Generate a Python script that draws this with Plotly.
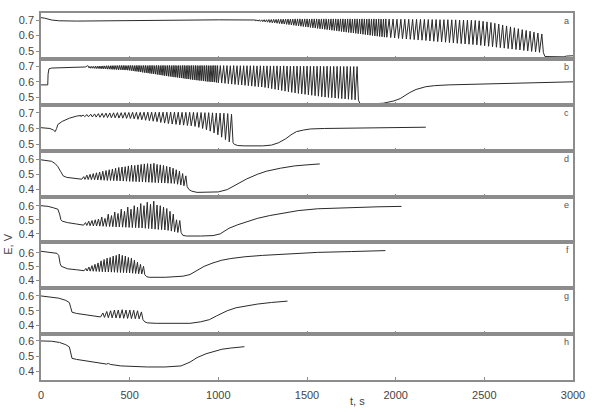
import plotly.graph_objects as go
from plotly.subplots import make_subplots

# ---------------- data ----------------
panel_labels = ["a", "b", "c", "d", "e", "f", "g", "h"]
x_ticks = [0, 500, 1000, 1500, 2000, 2500, 3000]

# panel a : oscillation segments (start/split/end times) and cycles per segment
a_pre_t = [0, 20, 60, 100, 200, 300, 400, 500, 700, 1000, 1210]
a_pre_v = [0.715, 0.712, 0.700, 0.695, 0.693, 0.694, 0.698, 0.700, 0.701, 0.701, 0.700]
a_osc_breaks = [1210, 1950, 2833]
a_osc_counts = [55, 40]
a_peaks = [.700, .701, .701, .702, .702, .703, .703, .704, .704, .705,
           .705, .705, .706, .706, .706, .706, .707, .707, .707, .706,
           .707, .707, .706, .707, .707, .707, .706, .707, .707, .707,
           .706, .707, .707, .707, .706, .707, .707, .706, .707, .707,
           .706, .707, .707, .706, .707, .707, .706, .707, .706, .707,
           .706, .707, .706, .706, .707,
           .706, .706, .705, .705, .705, .705, .704, .704, .704, .704,
           .703, .703, .703, .702, .702, .702, .701, .701, .700, .700,
           .699, .698, .697, .695, .692, .688, .684, .679, .674, .668,
           .662, .656, .650, .644, .638, .633, .628, .622, .616, .610]
a_troughs = [.695, .693, .691, .689, .688, .686, .684, .682, .681, .679,
             .677, .675, .674, .672, .670, .668, .666, .664, .662, .660,
             .658, .656, .654, .652, .650, .648, .646, .644, .642, .640,
             .638, .636, .634, .632, .630, .628, .626, .624, .622, .620,
             .618, .616, .614, .612, .610, .608, .606, .604, .602, .600,
             .598, .596, .594, .592, .590,
             .589, .587, .585, .582, .580, .578, .576, .574, .572, .570,
             .568, .565, .563, .561, .559, .557, .555, .553, .550, .548,
             .546, .544, .542, .540, .537, .534, .531, .528, .525, .522,
             .519, .516, .513, .510, .507, .504, .501, .498, .495, .492]
a_post_t = [2833, 2842, 2900, 2950, 2962, 3000]
a_post_v = [0.490, 0.465, 0.463, 0.463, 0.468, 0.470]

# panel b
b_pre_t = [0, 38, 40, 45, 60, 100, 150, 200, 250, 262, 270]
b_pre_v = [0.580, 0.580, 0.650, 0.685, 0.690, 0.692, 0.693, 0.695, 0.697, 0.705, 0.700]
b_osc_breaks = [270, 1000, 1790]
b_osc_counts = [70, 42]
b_peaks = [.700, .701, .701, .702, .702, .703, .703, .704, .704, .705,
           .705, .705, .706, .706, .706, .706, .707, .707, .707, .707,
           .706, .707, .707, .707, .706, .707, .707, .707, .706, .707,
           .707, .706, .707, .707, .707, .706, .707, .707, .706, .707,
           .707, .706, .707, .707, .706, .707, .707, .706, .707, .706,
           .707, .707, .706, .707, .706, .707, .706, .707, .706, .706,
           .707, .706, .706, .707, .706, .706, .706, .707, .706, .706,
           .706, .706, .706, .705, .706, .705, .705, .705, .705, .705,
           .705, .704, .705, .704, .704, .704, .704, .704, .703, .704,
           .703, .703, .703, .703, .703, .702, .703, .702, .702, .702,
           .702, .701, .702, .701, .701, .701, .701, .700, .701, .700,
           .700, .700]
b_troughs = [.690, .689, .689, .688, .687, .687, .686, .685, .685, .684,
             .683, .683, .682, .681, .681, .680, .679, .679, .678, .677,
             .677, .676,
             .675, .673, .671, .669, .668, .666, .664, .662, .660, .659,
             .657, .655, .653, .651, .650, .648, .646, .644, .642,
             .640, .638, .636, .635, .633, .631, .630, .628, .626, .625,
             .623, .621, .619, .618, .616, .614, .613, .611,
             .610, .608, .607, .605, .604, .602, .601, .600, .599, .598, .596,
             .594, .592, .590, .588, .585, .583, .581, .579, .577, .575,
             .572, .570, .568, .566,
             .563, .559, .555, .551, .547, .543, .539, .535, .531,
             .527, .524, .521, .518, .515, .512, .509, .506, .502,
             .500, .498, .496, .494, .492, .490, .488, .486, .484, .482]
b_post_t = [1790, 1800, 1850, 1930, 1990, 2025, 2080, 2115, 2170, 2220, 2300, 2450, 2650, 2850, 3000]
b_post_v = [0.480, 0.456, 0.455, 0.460, 0.475, 0.490, 0.530, 0.550, 0.568, 0.575, 0.580, 0.585, 0.590, 0.597, 0.600]

# panel c
c_pre_t = [0, 50, 70, 80, 88, 95, 120, 160, 200, 225]
c_pre_v = [0.605, 0.600, 0.590, 0.580, 0.600, 0.625, 0.645, 0.665, 0.678, 0.682]
c_osc_breaks = [225, 1083]
c_osc_counts = [40]
c_peaks = [.685, .688, .690, .692, .694, .696, .697, .698, .699, .700,
           .700, .701, .701, .702, .702, .702, .703, .703, .703, .703,
           .703, .703, .703, .703, .703, .703, .702, .702, .702, .702,
           .701, .701, .700, .700, .699, .698, .697, .696, .694, .690]
c_troughs = [.676, .675, .674, .673, .672, .671, .670, .669, .668, .667,
             .666, .665, .664, .663, .661, .658, .655, .652, .649, .646,
             .643, .638, .634, .631, .628, .626, .623, .621, .619, .617,
             .613, .607, .600, .592, .583, .572, .560, .545, .530, .515]
c_post_t = [1083, 1090, 1110, 1150, 1250, 1300, 1340, 1380, 1410, 1440, 1480, 1520, 1600, 1800, 2000, 2170]
c_post_v = [0.510, 0.500, 0.492, 0.490, 0.490, 0.495, 0.510, 0.535, 0.560, 0.580, 0.590, 0.597, 0.600, 0.603, 0.606, 0.608]

# panel d
d_pre_t = [0, 40, 60, 80, 95, 110, 125, 145, 180, 230]
d_pre_v = [0.595, 0.590, 0.585, 0.570, 0.550, 0.520, 0.490, 0.480, 0.476, 0.470]
d_osc_breaks = [230, 824]
d_osc_counts = [33]
d_peaks = [.485, .495, .500, .505, .510, .515, .520, .525, .530, .535,
           .540, .545, .548, .550, .555, .560, .558, .562, .565, .568,
           .570, .568, .572, .565, .562, .558, .552, .548, .540, .530,
           .520, .505, .490]
d_troughs = [.468, .467, .466, .465, .464, .463, .462, .461, .460, .460,
             .459, .458, .457, .456, .455, .454, .453, .452, .451, .450,
             .449, .448, .447, .446, .445, .444, .443, .442, .441, .440,
             .435, .430, .425]
d_post_t = [824, 835, 850, 880, 950, 1000, 1050, 1100, 1160, 1220, 1270, 1350, 1430, 1500, 1572]
d_post_v = [0.420, 0.400, 0.390, 0.382, 0.382, 0.385, 0.400, 0.430, 0.470, 0.500, 0.520, 0.540, 0.555, 0.562, 0.568]

# panel e
e_pre_t = [0, 40, 70, 95, 105, 112, 120, 150, 200, 240]
e_pre_v = [0.600, 0.595, 0.585, 0.575, 0.540, 0.500, 0.490, 0.480, 0.470, 0.465]
e_osc_breaks = [240, 790]
e_osc_counts = [30]
e_peaks = [.480, .490, .495, .500, .505, .520, .510, .540, .530, .555,
           .545, .575, .560, .590, .575, .600, .590, .615, .600, .625,
           .610, .632, .605, .600, .590, .580, .560, .540, .500, .495]
e_troughs = [.462, .460, .458, .457, .456, .455, .454, .453, .452, .451,
             .450, .449, .448, .447, .446, .445, .444, .443, .442, .440,
             .438, .436, .434, .432, .430, .428, .425, .420, .415, .410]
e_post_t = [790, 800, 820, 900, 970, 1010, 1060, 1110, 1160, 1220, 1290, 1370, 1450, 1560, 1750, 1900, 2033]
e_post_v = [0.410, 0.390, 0.385, 0.385, 0.388, 0.400, 0.440, 0.465, 0.485, 0.510, 0.530, 0.550, 0.565, 0.578, 0.587, 0.592, 0.595]

# panel f
f_pre_t = [0, 50, 90, 100, 108, 115, 150, 200, 243]
f_pre_v = [0.610, 0.600, 0.595, 0.580, 0.520, 0.500, 0.482, 0.475, 0.470]
f_osc_breaks = [243, 585]
f_osc_counts = [20]
f_peaks = [.485, .495, .505, .515, .525, .540, .550, .560, .565, .575,
           .580, .590, .580, .575, .565, .560, .545, .530, .515, .500]
f_troughs = [.468, .466, .465, .464, .463, .462, .461, .460, .459, .458,
             .457, .456, .455, .454, .453, .452, .450, .448, .446, .444]
f_post_t = [585, 595, 610, 700, 800, 840, 880, 920, 970, 1020, 1070, 1150, 1250, 1350, 1450, 1560, 1750, 1942]
f_post_v = [0.440, 0.425, 0.420, 0.420, 0.428, 0.440, 0.470, 0.500, 0.525, 0.545, 0.557, 0.570, 0.580, 0.588, 0.596, 0.602, 0.608, 0.615]

# panel g
g_pre_t = [0, 50, 100, 140, 160, 168, 175, 200, 250, 300, 336]
g_pre_v = [0.600, 0.595, 0.585, 0.570, 0.555, 0.520, 0.490, 0.482, 0.475, 0.468, 0.462]
g_osc_breaks = [336, 575]
g_osc_counts = [11]
g_peaks = [.485, .495, .500, .505, .505, .507, .505, .505, .503, .500, .492]
g_troughs = [.458, .455, .453, .452, .451, .450, .449, .448, .447, .446, .445]
g_post_t = [575, 585, 600, 650, 750, 840, 900, 950, 990, 1050, 1100, 1160, 1220, 1300, 1390]
g_post_v = [0.440, 0.425, 0.418, 0.415, 0.413, 0.415, 0.425, 0.440, 0.465, 0.500, 0.520, 0.535, 0.545, 0.556, 0.565]

# panel h (no oscillations)
h_t = [0, 60, 105, 140, 160, 168, 175, 200, 250, 300, 370, 380, 390, 450, 520, 600, 700,
       790, 840, 880, 930, 970, 1020, 1070, 1110, 1147]
h_v = [0.600, 0.598, 0.590, 0.575, 0.560, 0.520, 0.485, 0.478, 0.470, 0.460, 0.447, 0.452, 0.445,
       0.435, 0.430, 0.428, 0.428, 0.435, 0.460, 0.490, 0.515, 0.530, 0.545, 0.553, 0.558, 0.562]

y_ranges = [[0.45, 0.745], [0.45, 0.75], [0.46, 0.75], [0.355, 0.655],
            [0.34, 0.665], [0.34, 0.675], [0.342, 0.652], [0.342, 0.645]]
y_ticks_hi = [0.5, 0.6, 0.7]
y_ticks_lo = [0.4, 0.5, 0.6]


def build(pre_t, pre_v, breaks=None, counts=None, peaks=None, troughs=None,
          post_t=None, post_v=None):
    t = list(pre_t)
    v = list(pre_v)
    if breaks is not None:
        n = min(len(peaks), len(troughs), sum(counts))
        k = 0
        for s, cnt in enumerate(counts):
            step = (breaks[s + 1] - breaks[s]) / cnt
            for i in range(cnt):
                if k >= n:
                    break
                ts = breaks[s] + i * step
                t += [ts, ts + 0.6 * step]
                v += [troughs[k], peaks[k]]
                k += 1
        t += list(post_t)
        v += list(post_v)
    return t, v


series = [
    build(a_pre_t, a_pre_v, a_osc_breaks, a_osc_counts, a_peaks, a_troughs, a_post_t, a_post_v),
    build(b_pre_t, b_pre_v, b_osc_breaks, b_osc_counts, b_peaks, b_troughs, b_post_t, b_post_v),
    build(c_pre_t, c_pre_v, c_osc_breaks, c_osc_counts, c_peaks, c_troughs, c_post_t, c_post_v),
    build(d_pre_t, d_pre_v, d_osc_breaks, d_osc_counts, d_peaks, d_troughs, d_post_t, d_post_v),
    build(e_pre_t, e_pre_v, e_osc_breaks, e_osc_counts, e_peaks, e_troughs, e_post_t, e_post_v),
    build(f_pre_t, f_pre_v, f_osc_breaks, f_osc_counts, f_peaks, f_troughs, f_post_t, f_post_v),
    build(g_pre_t, g_pre_v, g_osc_breaks, g_osc_counts, g_peaks, g_troughs, g_post_t, g_post_v),
    build(h_t, h_v),
]

# ---------------- figure ----------------
fig = make_subplots(rows=8, cols=1, shared_xaxes=True, vertical_spacing=0)

FRAME = "#8c8c8c"
FONT = dict(family="Liberation Sans, Arial, sans-serif", size=11, color="#444444")

for i, (t, v) in enumerate(series):
    fig.add_trace(go.Scatter(x=t, y=v, mode="lines",
                             line=dict(color="#2a2a2a", width=1.0),
                             hoverinfo="skip"), row=i + 1, col=1)
    ticks = y_ticks_hi if i < 3 else y_ticks_lo
    fig.update_yaxes(row=i + 1, col=1, range=y_ranges[i], tickvals=ticks,
                     ticktext=[f"{x:.1f}" for x in ticks],
                     showline=True, linecolor=FRAME, linewidth=1.5, mirror=True,
                     ticks="outside", ticklen=3, tickcolor=FRAME,
                     tickfont=FONT, showgrid=False, zeroline=False)
    fig.update_xaxes(row=i + 1, col=1, range=[0, 3000], tickvals=x_ticks,
                     showline=True, linecolor=FRAME, linewidth=1.5, mirror=True,
                     ticks="inside", ticklen=3, tickcolor=FRAME,
                     tickfont=FONT, showgrid=False, zeroline=False)

fig.update_xaxes(row=8, col=1, ticklabelstandoff=4)

annotations = []
for i, lab in enumerate(panel_labels):
    annotations.append(dict(text=lab, xref="paper", yref="paper", x=1, y=1 - i / 8,
                            xanchor="right", yanchor="top", xshift=-2, yshift=-1,
                            showarrow=False, font=dict(family=FONT["family"], size=9, color="#555555")))
annotations.append(dict(text="E, V", xref="paper", yref="paper", x=-0.061, y=0.37,
                        textangle=-90, showarrow=False, xanchor="center", yanchor="middle",
                        font=dict(family=FONT["family"], size=11, color="#444444")))
annotations.append(dict(text="t, s", xref="paper", yref="paper", x=0.595, y=-0.036,
                        showarrow=False, xanchor="center", yanchor="top",
                        font=dict(family=FONT["family"], size=11, color="#444444")))

fig.update_layout(width=596, height=412, margin=dict(l=41, r=12, t=11, b=19),
                  plot_bgcolor="white", paper_bgcolor="white", showlegend=False,
                  annotations=annotations)

fig.write_html("out.html")
